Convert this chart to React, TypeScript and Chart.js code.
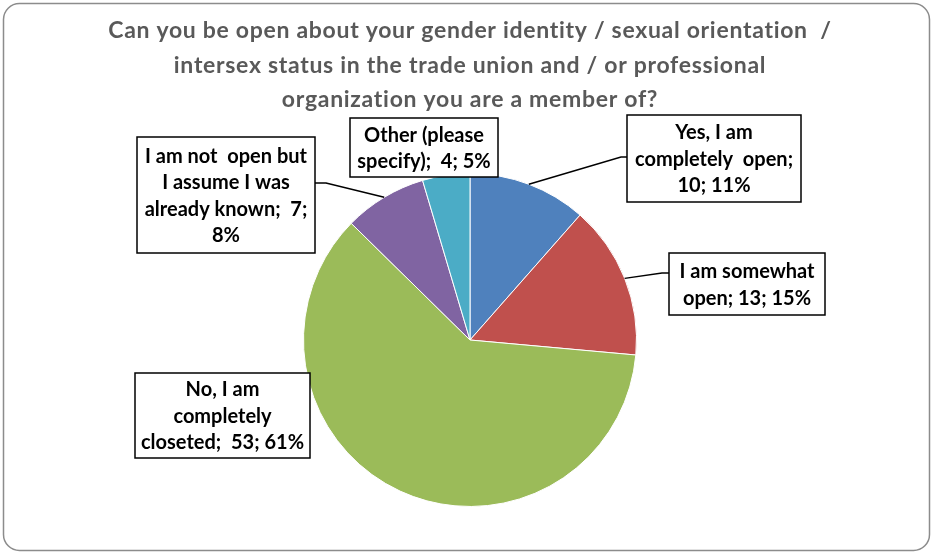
import React, { useEffect, useRef } from "react";
import { Chart, registerables } from "chart.js";

Chart.register(...registerables);

const titleLines = [
  "Can you be open about your gender identity / sexual orientation  /",
  "intersex status in the trade union and / or professional",
  "organization you are a member of?",
];

const categories = [
  "Yes, I am completely open",
  "I am somewhat open",
  "No, I am completely closeted",
  "I am not open but I assume I was already known",
  "Other (please specify)",
];
const values = [10, 13, 53, 7, 4];
const labelLines = [
  ["Yes, I am", "completely  open;", "10; 11%"],
  ["I am somewhat", "open; 13; 15%"],
  ["No, I am", "completely", "closeted;  53; 61%"],
  ["I am not  open but", "I assume I was", "already known;  7;", "8%"],
  ["Other (please", "specify);  4; 5%"],
];
const colors = ["#4F81BD", "#C0504D", "#9BBB59", "#8064A2", "#4BACC6"];

// label box layout: x, y, w, h, and leader (attach side + elbow)
const boxes = [
  { x: 627, y: 115, w: 174, h: 87, leader: { ax: 627, ay: 157, ex: 621 } },
  { x: 669, y: 253, w: 156, h: 62, leader: { ax: 669, ay: 273, ex: 662 } },
  { x: 135, y: 373, w: 175, h: 85, leader: null },
  { x: 137, y: 137, w: 178, h: 116, leader: { ax: 315, ay: 183, ex: 326 } },
  { x: 350, y: 118, w: 148, h: 59, leader: null },
];

const FONT = "Lato, 'Open Sans', sans-serif";

const overlay = {
  id: "overlay",
  beforeDraw(chart: any) {
    const ctx = chart.ctx;
    ctx.save();
    ctx.fillStyle = "#ffffff";
    ctx.fillRect(0, 0, chart.width, chart.height);
    ctx.restore();
  },
  afterDraw(chart: any) {
    const ctx = chart.ctx;
    ctx.save();
    // outer rounded border
    ctx.strokeStyle = "#8c8c8c";
    ctx.lineWidth = 1.5;
    ctx.beginPath();
    ctx.roundRect(3.5, 3.5, chart.width - 7, chart.height - 6, 16);
    ctx.stroke();

    // title
    ctx.fillStyle = "#595959";
    ctx.font = `bold 23px ${FONT}`;
    ctx.textAlign = "center";
    ctx.textBaseline = "middle";
    try { (ctx as any).letterSpacing = "0.7px"; } catch (e) {}
    titleLines.forEach((t, i) => ctx.fillText(t, 470, 31 + i * 34.5));
    try { (ctx as any).letterSpacing = "0px"; } catch (e) {}

    const meta = chart.getDatasetMeta(0);
    boxes.forEach((b, i) => {
      const arc = meta.data[i];
      const mid = (arc.startAngle + arc.endAngle) / 2;
      const px = arc.x + Math.cos(mid) * arc.outerRadius;
      const py = arc.y + Math.sin(mid) * arc.outerRadius;
      if (b.leader) {
        ctx.strokeStyle = "#000";
        ctx.lineWidth = 1.5;
        ctx.beginPath();
        ctx.moveTo(b.leader.ax, b.leader.ay);
        ctx.lineTo(b.leader.ex, b.leader.ay);
        ctx.lineTo(px, py);
        ctx.stroke();
      }
      ctx.fillStyle = "#fff";
      ctx.fillRect(b.x, b.y, b.w, b.h);
      ctx.strokeStyle = "#000";
      ctx.lineWidth = 1.5;
      ctx.strokeRect(b.x, b.y, b.w, b.h);
      ctx.fillStyle = "#000";
      ctx.font = `bold 20px ${FONT}`;
      const lines = labelLines[i];
      const lh = 26.5;
      const cy = b.y + b.h / 2 + 1;
      lines.forEach((t, j) => {
        ctx.fillText(t, b.x + b.w / 2, cy + (j - (lines.length - 1) / 2) * lh);
      });
    });
    ctx.restore();
  },
};

export default function App() {
  const ref = useRef<HTMLCanvasElement>(null);
  useEffect(() => {
    const chart = new Chart(ref.current!, {
      type: "pie",
      data: {
        labels: categories,
        datasets: [
          {
            data: values,
            backgroundColor: colors,
            borderColor: "#ffffff",
            borderWidth: 1,
          },
        ],
      },
      options: {
        animation: false,
        responsive: false,
        layout: { padding: { left: 303, right: 296, top: 173, bottom: 46 } },
        plugins: {
          legend: { display: false },
          tooltip: { enabled: false },
          title: { display: false },
        },
      },
      plugins: [overlay],
    });
    return () => chart.destroy();
  }, []);
  return (
    <div style={{ position: "fixed", left: 0, top: 0, width: 933, height: 553, background: "#fff" }}>
      <canvas ref={ref} width={933} height={553} />
    </div>
  );
}
